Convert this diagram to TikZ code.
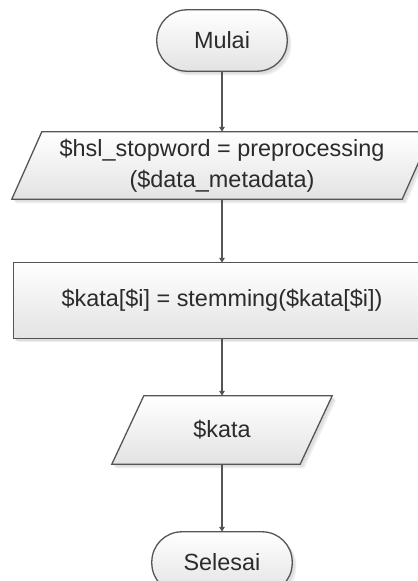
\documentclass[tikz,border=0pt]{standalone}
\usepackage{fontspec}
\setmainfont{Liberation Sans}
\usetikzlibrary{arrows.meta,calc}
\definecolor{edge}{HTML}{555555}
\definecolor{ink}{HTML}{2B2B2B}
\pgfdeclarelayer{background}
\pgfsetlayers{background,main}
\begin{document}
\begin{tikzpicture}[x=1bp,y=-1bp,
  base/.style={draw=none, inner sep=0pt, text=ink,
    font=\fontsize{23.5}{31}\selectfont, align=center},
  flow/.style={draw=edge, line width=1.3bp, top color=white, bottom color=black!11},
  shadowfar/.style={fill=black!7},
  shadownear/.style={fill=black!13},
  link/.style={draw=edge, line width=1.3bp, -{Triangle[length=5bp,width=5.5bp]}}]
\clip (0,0) rectangle (417,581);

% text nodes; their boxes give the outline of each flowchart symbol
\node[base, minimum width=130bp, minimum height=61bp] (start) at (222,40.5) {Mulai};
\node[base, minimum width=390bp, minimum height=67bp] (io1) at (222,165.5)
  {\$hsl\_stopword = preprocessing\\(\$data\_metadata)};
\node[base, minimum width=416bp, minimum height=75bp] (stem) at (222,300.5)
  {\$kata[\$i] = stemming(\$kata[\$i])};
\node[base, minimum width=188bp, minimum height=68bp] (io2) at (222,430) {\$kata};
\node[base, minimum width=140bp, minimum height=61bp] (stop) at (222,562.5) {Selesai};

\begin{pgfonlayer}{background}
  \fill[white] (0,0) rectangle (417,581);
  % terminators
  \foreach \n in {start,stop} {
    \path[shadowfar, rounded corners=30bp] ($(\n.north west)+(4,4)$) rectangle ($(\n.south east)+(4,4)$);
    \path[shadownear, rounded corners=30bp] ($(\n.north west)+(2.5,2.5)$) rectangle ($(\n.south east)+(2.5,2.5)$);
    \path[flow, rounded corners=30bp] (\n.north west) rectangle (\n.south east);
  }
  % process box
  \path[shadowfar] ($(stem.north west)+(4,4)$) rectangle ($(stem.south east)+(4,4)$);
  \path[shadownear] ($(stem.north west)+(2.5,2.5)$) rectangle ($(stem.south east)+(2.5,2.5)$);
  \path[flow] (stem.north west) rectangle (stem.south east);
  % data (input/output) symbols
  \foreach \n/\s in {io1/15,io2/16} {
    \foreach \d/\st in {4/shadowfar,2.5/shadownear} {
      \path[\st] ($(\n.north west)+(\s+\d,\d)$) -- ($(\n.north east)+(\s+\d,\d)$)
        -- ($(\n.south east)+(-\s+\d,\d)$) -- ($(\n.south west)+(-\s+\d,\d)$) -- cycle;
    }
    \path[flow] ($(\n.north west)+(\s,0)$) -- ($(\n.north east)+(\s,0)$)
      -- ($(\n.south east)+(-\s,0)$) -- ($(\n.south west)+(-\s,0)$) -- cycle;
  }
\end{pgfonlayer}

% connectors
\draw[link] (start) -- (io1);
\draw[link] (io1) -- (stem);
\draw[link] (stem) -- (io2);
\draw[link] (io2) -- (stop);
\end{tikzpicture}
\end{document}
